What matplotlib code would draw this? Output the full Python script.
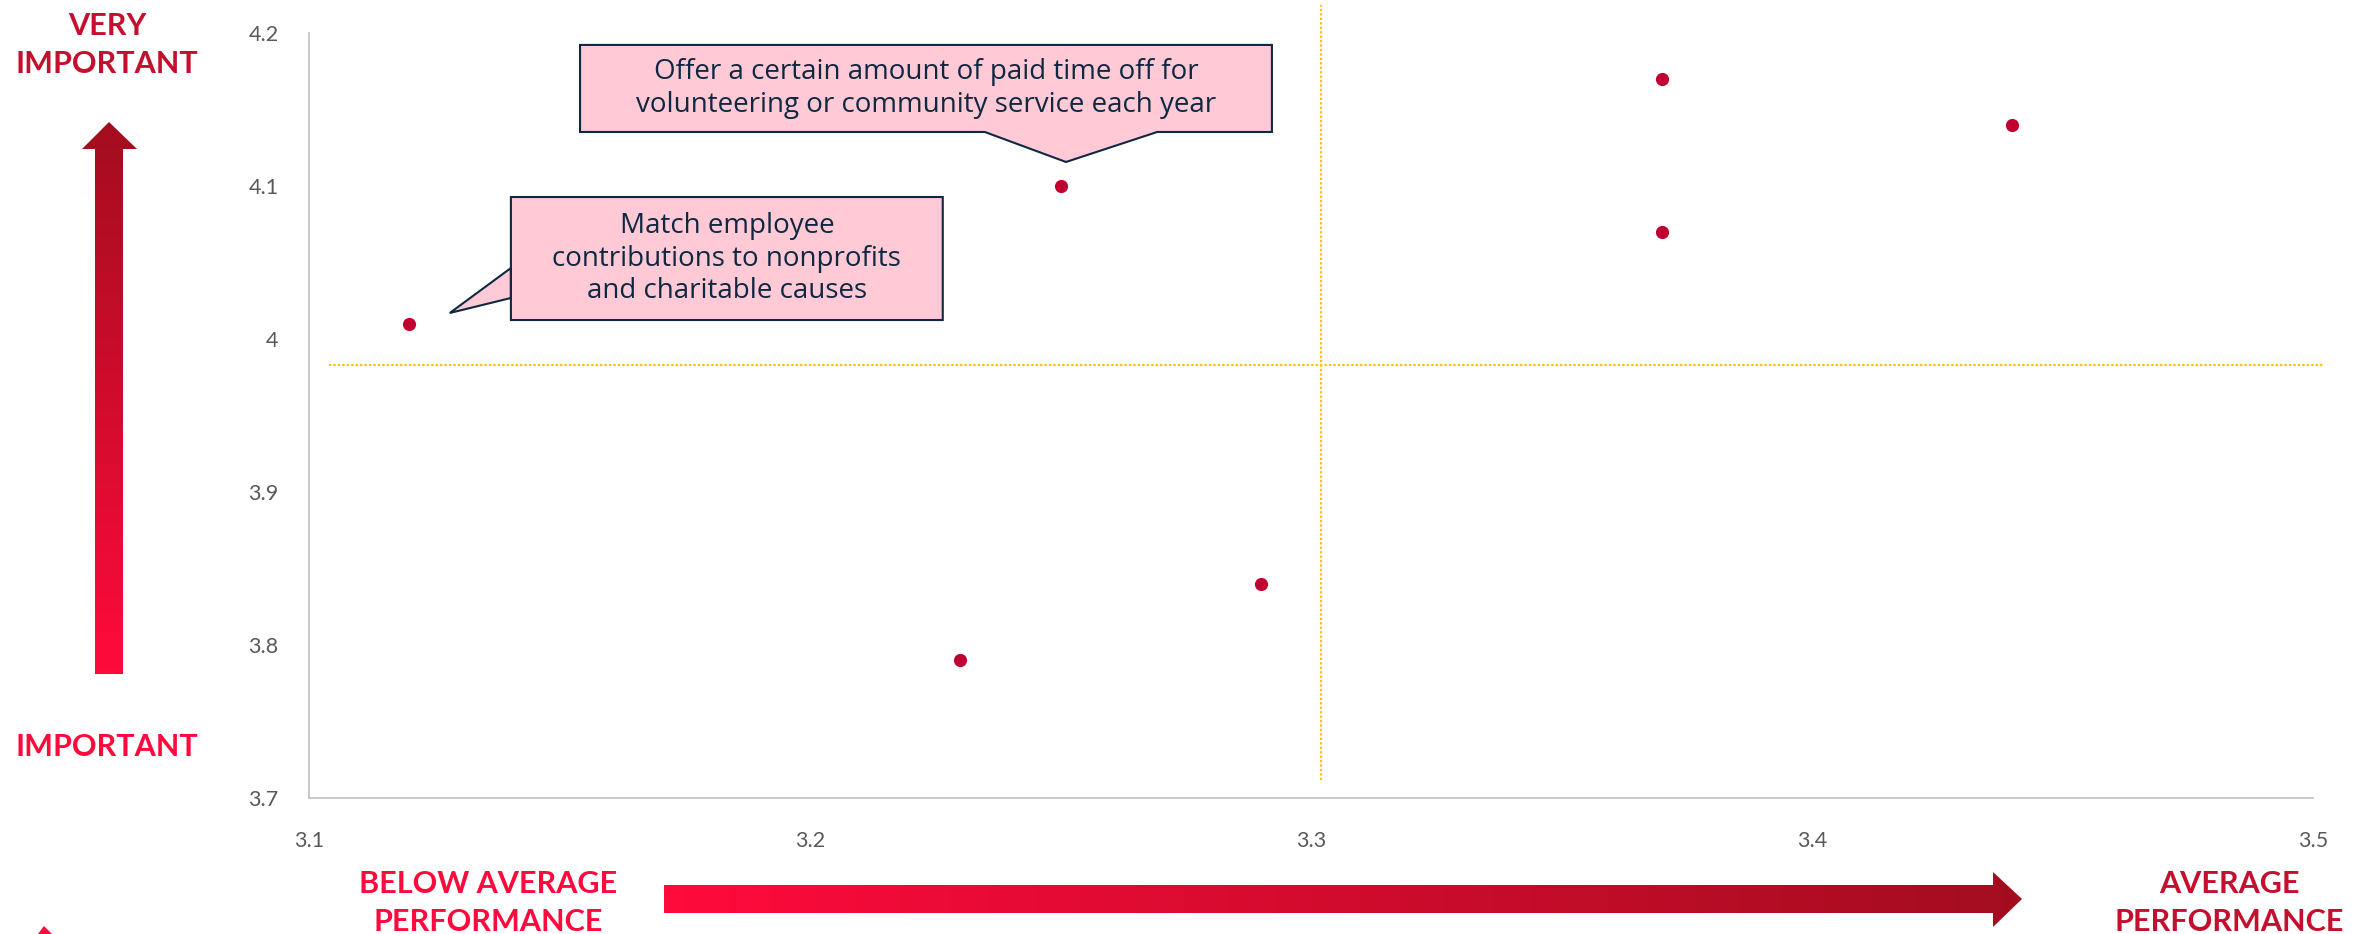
import numpy as np
import matplotlib
matplotlib.use("Agg")
import matplotlib.pyplot as plt
from matplotlib.patches import Polygon
from matplotlib.colors import LinearSegmentedColormap

plt.rcParams['font.family'] = ['Lato', 'DejaVu Sans']

# performance (x) vs importance (y)
performance = [3.12, 3.25, 3.23, 3.29, 3.37, 3.37, 3.44]
importance = [4.01, 4.10, 3.79, 3.84, 4.17, 4.07, 4.14]

x_ticks = [3.1, 3.2, 3.3, 3.4, 3.5]
x_tick_labels = ["3.1", "3.2", "3.3", "3.4", "3.5"]
y_ticks = [3.7, 3.8, 3.9, 4.0, 4.1, 4.2]
y_tick_labels = ["3.7", "3.8", "3.9", "4", "4.1", "4.2"]

# quadrant dividers
perf_divider = 3.302
imp_divider = 3.983

callout_match = "Match employee\ncontributions to nonprofits\nand charitable causes"
callout_pto = "Offer a certain amount of paid time off for\nvolunteering or community service each year"

DARK_RED = "#C4102E"
BRIGHT_RED = "#FF0A3C"
DOT_RED = "#C00030"
GOLD = "#FFC000"
NAVY = "#0E2841"
PINK = "#FFC9D6"
GREY = "#595959"

W, H = 2374, 934
fig = plt.figure(figsize=(W / 100, H / 100), dpi=100)
ax = fig.add_axes([309 / W, 1 - 798 / H, (2313 - 309) / W, (798 - 33) / H])

ax.scatter(performance, importance, s=90, color=DOT_RED, zorder=3, linewidths=0)

ax.set_xlim(3.1, 3.5)
ax.set_ylim(3.7, 4.2)
ax.set_xticks(x_ticks)
ax.set_xticklabels(x_tick_labels)
ax.set_yticks(y_ticks)
ax.set_yticklabels(y_tick_labels)
ax.tick_params(length=0, labelsize=15.5, labelcolor=GREY)
ax.tick_params(axis='x', pad=24)
ax.tick_params(axis='y', pad=22)
for side in ["top", "right"]:
    ax.spines[side].set_visible(False)
for side in ["left", "bottom"]:
    ax.spines[side].set_color("#BFBFBF")
    ax.spines[side].set_linewidth(1.2)

# dotted quadrant lines
ax.plot([perf_divider, perf_divider], [3.712, 4.218], color=GOLD, lw=1.6,
        linestyle=(0, (1, 1)), clip_on=False, zorder=1)
ax.plot([3.104, 3.502], [imp_divider, imp_divider], color=GOLD, lw=1.6,
        linestyle=(0, (1, 1)), clip_on=False, zorder=1)


def callout(x0, x1, y0, y1, pointer, tip, text):
    # box with a triangular pointer, all in data units
    if pointer[0] == "left":
        ya, yb = pointer[1]
        pts = [(x0, y1), (x1, y1), (x1, y0), (x0, y0), (x0, yb), tip, (x0, ya)]
    else:
        xa, xb = pointer[1]
        pts = [(x0, y1), (x1, y1), (x1, y0), (xb, y0), tip, (xa, y0), (x0, y0)]
    ax.add_patch(Polygon(pts, closed=True, facecolor=PINK, edgecolor=NAVY,
                         lw=1.5, clip_on=False, zorder=4, joinstyle='miter'))
    ax.text((x0 + x1) / 2, (y0 + y1) / 2, text, ha='center', va='center',
            fontsize=20, color=NAVY, linespacing=1.23, zorder=5,
            family=['Open Sans', 'DejaVu Sans'])


callout(3.1403, 3.2265, 4.0124, 4.0928, ("left", (4.0268, 4.0464)),
        (performance[0] + 0.0081, importance[0] + 0.007), callout_match)
callout(3.1541, 3.2922, 4.1353, 4.1922, ("bottom", (3.2349, 3.2693)),
        (performance[1] + 0.0011, importance[1] + 0.0157), callout_pto)

# overlay in pixel units for the axis-direction labels and arrows
ov = fig.add_axes([0, 0, 1, 1], zorder=-1)
ov.set_xlim(0, W)
ov.set_ylim(H, 0)
ov.axis('off')

ramp = LinearSegmentedColormap.from_list("ramp", [BRIGHT_RED, "#A30D1F"])


def gradient_arrow(pts, extent, vertical):
    patch = Polygon(pts, closed=True, facecolor='none', edgecolor='none')
    ov.add_patch(patch)
    g = np.linspace(0, 1, 256)
    if vertical:
        img = g[::-1].reshape(-1, 1)  # dark end at the top
    else:
        img = g.reshape(1, -1)
    im = ov.imshow(img, cmap=ramp, extent=extent, aspect='auto',
                   interpolation='bicubic', origin='upper')
    im.set_clip_path(patch)


# up arrow
gradient_arrow([(95, 674), (95, 149), (82, 149), (109, 122), (137, 149),
                (123, 149), (123, 674)], (82, 137, 674, 122), True)
# right arrow
gradient_arrow([(664, 885), (1993, 885), (1993, 872), (2022, 899),
                (1993, 927), (1993, 913), (664, 913)], (664, 2022, 927, 872), False)
ov.set_xlim(0, W)
ov.set_ylim(H, 0)

# small arrow fragment at the lower-left edge
ov.add_patch(Polygon([(38, 934), (44, 926), (52, 934)], closed=True,
                     facecolor=BRIGHT_RED, edgecolor='none', clip_on=False))

label_kw = dict(ha='center', va='baseline', fontsize=22, fontweight='bold')
ov.text(107, 35, "VERY", color=DARK_RED, **label_kw)
ov.text(107, 73, "IMPORTANT", color=DARK_RED, **label_kw)
ov.text(107, 756, "IMPORTANT", color=BRIGHT_RED, **label_kw)
ov.text(488, 893, "BELOW AVERAGE", color=BRIGHT_RED, **label_kw)
ov.text(488, 931, "PERFORMANCE", color=BRIGHT_RED, **label_kw)
ov.text(2229, 893, "AVERAGE", color=DARK_RED, **label_kw)
ov.text(2229, 931, "PERFORMANCE", color=DARK_RED, **label_kw)

fig.savefig("out.png", dpi=100)
